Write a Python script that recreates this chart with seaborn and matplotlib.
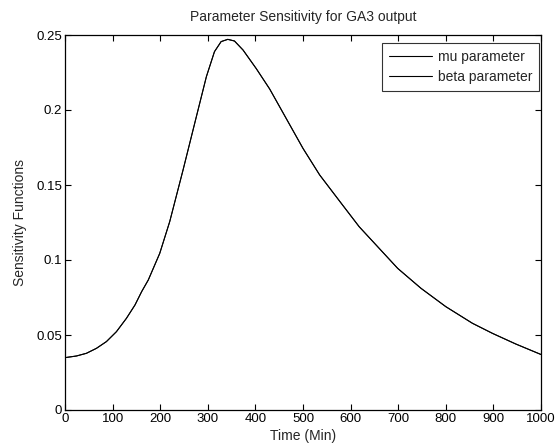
import matplotlib
matplotlib.use("Agg")
import matplotlib.pyplot as plt
import seaborn as sns
import pandas as pd

time_min = [0, 24, 45, 66, 87, 108, 129, 147, 161, 175, 199, 220, 248, 276, 297, 314, 328,
            342, 356, 374, 402, 430, 468, 500, 535, 583, 618, 699, 748, 800, 856, 898, 947, 1000]
mu_vals = [0.0349, 0.0360, 0.0378, 0.0411, 0.0456, 0.0522, 0.0611, 0.0700, 0.0789, 0.0867,
           0.1044, 0.1256, 0.1600, 0.1956, 0.2222, 0.2389, 0.2456, 0.2471, 0.2460, 0.2400,
           0.2275, 0.2140, 0.1925, 0.1744, 0.1567, 0.1367, 0.1222, 0.0944, 0.0811, 0.0689,
           0.0578, 0.0511, 0.0440, 0.0370]
beta_vals = list(mu_vals)
series_names = ["mu parameter", "beta parameter"]

df = pd.concat([
    pd.DataFrame({"t": time_min, "v": mu_vals, "s": series_names[0]}),
    pd.DataFrame({"t": time_min, "v": beta_vals, "s": series_names[1]}),
])

sns.set_theme(style="white")
plt.rcParams["font.family"] = ["Liberation Sans", "DejaVu Sans"]

fig = plt.figure(figsize=(5.56, 4.47), dpi=100)
ax = fig.add_axes([65/556, 37/447, 476/556, 375/447])
sns.lineplot(data=df, x="t", y="v", hue="s", palette=["black", "black"],
             linewidth=0.75, ax=ax, legend=True)

ax.set_xlim(0, 1000)
ax.set_ylim(0, 0.25)
ax.set_xticks(range(0, 1001, 100))
ax.set_yticks([0, 0.05, 0.1, 0.15, 0.2, 0.25])
ax.set_yticklabels(["0", "0.05", "0.1", "0.15", "0.2", "0.25"])
ax.tick_params(direction="in", length=4, width=0.8, labelsize=9.5, colors="black",
               top=True, right=True, bottom=True, left=True, pad=2)
for sp in ax.spines.values():
    sp.set_visible(True)
    sp.set_color("black")
    sp.set_linewidth(0.9)
ax.set_xlabel("Time (Min)", fontsize=10, labelpad=3)
ax.set_ylabel("Sensitivity Functions", fontsize=10, labelpad=7)
ax.set_title("Parameter Sensitivity for GA3 output", fontsize=10, pad=10)

leg = ax.legend(loc="upper right", bbox_to_anchor=(1 - 2/476, 1 - 8/375),
                fontsize=10, frameon=True, fancybox=False,
                borderaxespad=0, handlelength=3.1, edgecolor="black",
                borderpad=0.5, labelspacing=0.45, handletextpad=0.4)
leg.get_frame().set_linewidth(0.8)
for line in leg.get_lines():
    line.set_linewidth(0.8)

fig.savefig("out.png", dpi=100)
